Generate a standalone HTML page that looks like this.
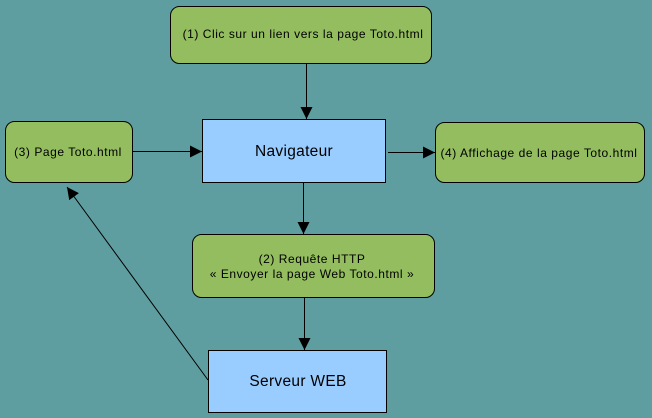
<!DOCTYPE html>
<html><head><meta charset="utf-8"><style>
html,body{margin:0;padding:0;background:#5f9ea0;width:652px;height:418px;overflow:hidden}
svg{display:block}
text{font-family:"Liberation Sans",sans-serif;fill:#000}
.s{font-size:12px;letter-spacing:0.55px}
.b{font-size:15.5px;letter-spacing:0.3px}
</style></head><body>
<svg width="652" height="418" viewBox="0 0 652 418" xmlns="http://www.w3.org/2000/svg">
<defs><marker id="a" markerWidth="12" markerHeight="12" refX="12" refY="6" orient="auto" markerUnits="userSpaceOnUse"><path d="M0,0 L12,6 L0,12 Z" fill="#000"/></marker></defs>
<g stroke="#000" stroke-width="1">
<rect x="170.5" y="6.5" width="261" height="57" rx="9" fill="#93bd5f"/>
<rect x="5.5" y="121.5" width="127" height="61" rx="9" fill="#93bd5f"/>
<rect x="202.5" y="119.5" width="183" height="63" fill="#99ccff"/>
<rect x="435.5" y="122.5" width="209" height="60" rx="9" fill="#93bd5f"/>
<rect x="192.5" y="234.5" width="242" height="63" rx="9" fill="#93bd5f"/>
<rect x="208.5" y="350.5" width="178" height="62" fill="#99ccff"/>
<line x1="306.5" y1="64" x2="306.5" y2="119" marker-end="url(#a)"/>
<line x1="133" y1="151.5" x2="202" y2="151.5" marker-end="url(#a)"/>
<line x1="388" y1="152.5" x2="435" y2="152.5" marker-end="url(#a)"/>
<line x1="303.5" y1="183" x2="303.5" y2="234" marker-end="url(#a)"/>
<line x1="304.5" y1="298" x2="304.5" y2="350" marker-end="url(#a)"/>
<line x1="208" y1="380" x2="67" y2="187" marker-end="url(#a)"/>
</g>
<text class="s" x="303" y="38" text-anchor="middle">(1) Clic sur un lien vers la page Toto.html</text>
<text class="s" x="68" y="156" text-anchor="middle">(3) Page Toto.html</text>
<text class="b" x="294" y="156" text-anchor="middle">Navigateur</text>
<text class="s" x="539" y="157" text-anchor="middle">(4) Affichage de la page Toto.html</text>
<text class="s" x="312" y="263" text-anchor="middle">(2) Requête HTTP</text>
<text class="s" x="312" y="278" text-anchor="middle">« Envoyer la page Web Toto.html »</text>
<text class="b" x="298" y="386" text-anchor="middle">Serveur WEB</text>
</svg>
</body></html>
